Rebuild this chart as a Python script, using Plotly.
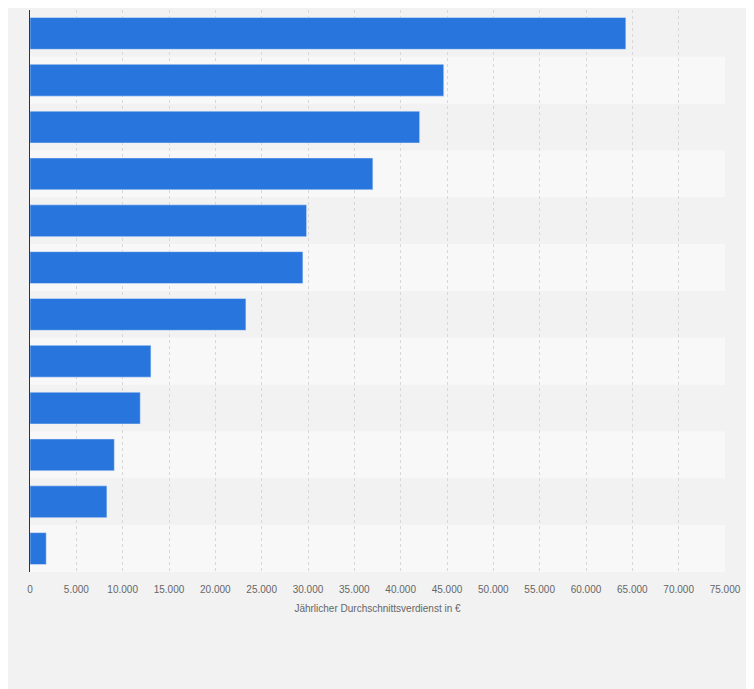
import plotly.graph_objects as go

categories = [f"Kategorie {i}" for i in range(1, 13)]
values = [64300, 44650, 42050, 37000, 29850, 29450, 23300, 13050, 11900, 9100, 8300, 1750]
tickvals = list(range(0, 75001, 5000))
ticktext = [f"{v:,}".replace(",", ".") for v in tickvals]

fig = go.Figure(go.Bar(y=categories, x=values, orientation="h",
                       marker=dict(color="#2876dd"), width=0.68))
shapes = []
for i, c in enumerate(categories):
    shapes.append(dict(type="rect", xref="paper", x0=0, x1=1, yref="y",
                       y0=i - 0.5, y1=i + 0.5, layer="below", line_width=0,
                       fillcolor="#f2f2f2" if i % 2 == 0 else "#f8f8f8"))
fig.update_layout(
    width=746, height=681, paper_bgcolor="#f2f2f2", plot_bgcolor="#f8f8f8",
    margin=dict(l=22, r=29, t=2, b=117), shapes=shapes, showlegend=False,
    font=dict(family="Liberation Sans", color="#666"),
)
fig.update_yaxes(autorange="reversed", showticklabels=False, showgrid=False,
                 showline=True, linecolor="#333", linewidth=1, ticks="")
fig.update_xaxes(range=[0, 75000], tickvals=tickvals, ticktext=ticktext,
                 tickfont=dict(size=10), showgrid=True, gridcolor="#d8d8d8",
                 griddash="dot", zeroline=False,
                 ticks="outside", ticklen=8, tickcolor="rgba(0,0,0,0)",
                 title=dict(text="Jährlicher Durchschnittsverdienst in €",
                            font=dict(size=10, color="#666"), standoff=10))
fig.write_html("out.html")
